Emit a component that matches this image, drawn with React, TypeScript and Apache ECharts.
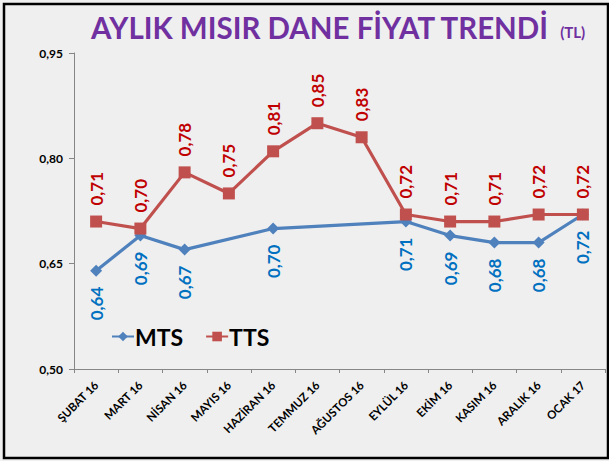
import React, { useEffect, useRef } from 'react';
import * as echarts from 'echarts';

const categories = ['ŞUBAT 16', 'MART 16', 'NİSAN 16', 'MAYIS 16', 'HAZİRAN 16', 'TEMMUZ 16', 'AĞUSTOS 16', 'EYLÜL 16', 'EKİM 16', 'KASIM 16', 'ARALIK 16', 'OCAK 17'];
const mtsValues = [0.64, 0.69, 0.67, null, 0.70, null, null, 0.71, 0.69, 0.68, 0.68, 0.72];
const ttsValues = [0.71, 0.70, 0.78, 0.75, 0.81, 0.85, 0.83, 0.72, 0.71, 0.71, 0.72, 0.72];
const yTicks = [0.5, 0.65, 0.8, 0.95];
const seriesNames = ['MTS', 'TTS'];
const titleMain = 'AYLIK MISIR DANE FİYAT TRENDİ';
const titleUnit = '(TL)';

const FONT = 'Lato';
const fmt = (v: number) => v.toFixed(2).replace('.', ',');

export default function App() {
  const ref = useRef<HTMLDivElement>(null);
  useEffect(() => {
    if (!ref.current) return;
    const chart = echarts.init(ref.current, undefined, { renderer: 'svg' });
    chart.setOption({
      animation: false,
      backgroundColor: '#efefef',
      textStyle: { fontFamily: FONT },
      title: {
        text: `{a|${titleMain}} {b|${titleUnit}}`,
        left: 86,
        top: 7,
        textStyle: {
          rich: {
            a: { fontFamily: FONT, fontSize: 29.5, fontWeight: 'bold', color: '#7030A0' },
            b: { fontFamily: FONT, fontSize: 15, fontWeight: 'bold', color: '#7030A0', padding: [9, 0, 0, 6] },
          },
        },
      },
      graphic: [
        {
          type: 'rect',
          shape: { x: 4, y: 4, width: 604, height: 454 },
          style: { fill: 'none', stroke: '#000', lineWidth: 2.5 },
          silent: true,
          z: 100,
        },
      ],
      legend: {
        data: seriesNames,
        left: 106,
        top: 320,
        itemWidth: 22,
        itemHeight: 12,
        itemGap: 22,
        textStyle: { fontFamily: FONT, fontSize: 23, fontWeight: 'bold', color: '#000', padding: [0, 0, 0, -4] },
      },
      grid: { left: 74, right: 4, top: 53, bottom: 92, containLabel: false },
      xAxis: {
        type: 'category',
        data: categories,
        boundaryGap: true,
        axisLine: { lineStyle: { color: '#868686', width: 1 } },
        axisTick: { show: true, length: 4, lineStyle: { color: '#868686' } },
        axisLabel: {
          rotate: 45,
          margin: 14,
          interval: 0,
          fontFamily: FONT,
          fontSize: 11.5,
          fontWeight: 'bold',
          color: '#000',
        },
      },
      yAxis: {
        type: 'value',
        min: 0.5,
        max: 0.95,
        splitLine: { show: false },
        axisLine: { show: true, lineStyle: { color: '#868686', width: 1 } },
        axisTick: { show: true, length: 5, lineStyle: { color: '#868686' }, customValues: yTicks },
        axisLabel: {
          customValues: yTicks,
          margin: 11,
          fontFamily: FONT,
          fontSize: 12,
          fontWeight: 'bold',
          color: '#000',
          formatter: (v: number) => fmt(v),
        },
      },
      series: [
        {
          name: 'MTS',
          type: 'line',
          data: mtsValues,
          connectNulls: true,
          symbol: 'diamond',
          symbolSize: 12,
          lineStyle: { color: '#4F81BD', width: 3.2 },
          itemStyle: { color: '#4F81BD' },
          label: {
            show: true,
            position: 'bottom',
            distance: 10,
            rotate: 90,
            align: 'right',
            verticalAlign: 'middle',
            fontFamily: FONT,
            fontSize: 17,
            fontWeight: 'bold',
            color: '#0070C0',
            formatter: (p: any) => fmt(p.value),
          },
        },
        {
          name: 'TTS',
          type: 'line',
          data: ttsValues,
          symbol: 'rect',
          symbolSize: 12,
          lineStyle: { color: '#C0504D', width: 3.2 },
          itemStyle: { color: '#C0504D' },
          label: {
            show: true,
            position: 'top',
            distance: 10,
            rotate: 90,
            align: 'left',
            verticalAlign: 'middle',
            fontFamily: FONT,
            fontSize: 17,
            fontWeight: 'bold',
            color: '#C00000',
            formatter: (p: any) => fmt(p.value),
          },
        },
      ],
    });
    return () => chart.dispose();
  }, []);
  return <div ref={ref} style={{ width: 609, height: 461, position: 'fixed', left: 0, top: 0 }} />;
}
